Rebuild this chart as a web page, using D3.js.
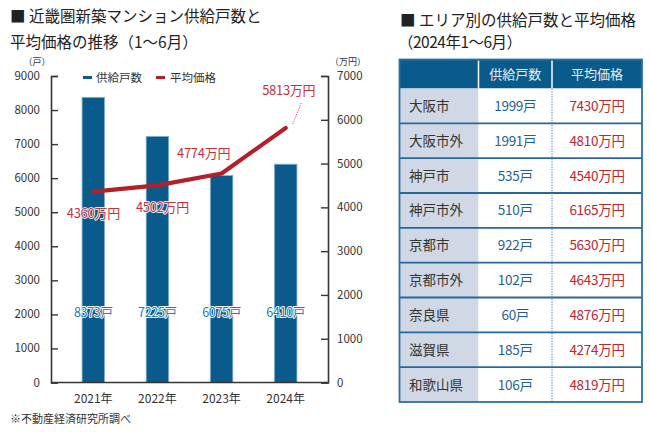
<!DOCTYPE html>
<html><head><meta charset="utf-8">
<script src="https://cdn.jsdelivr.net/npm/d3@7"></script>
<style>
html,body{margin:0;padding:0;background:#fff;}
svg{display:block;font-family:"Noto Sans CJK JP","Noto Sans",sans-serif;}
</style></head>
<body><svg id="c" width="650" height="438"></svg>
<script>
// ---- data ----
const years = ["2021年","2022年","2023年","2024年"];
const supply = [8373, 7225, 6075, 6410];
const price = [4360, 4502, 4774, 5813];
const leftTicks = [0,1000,2000,3000,4000,5000,6000,7000,8000,9000];
const rightTicks = [0,1000,2000,3000,4000,5000,6000,7000];
const areas = ["大阪市","大阪市外","神戸市","神戸市外","京都市","京都市外","奈良県","滋賀県","和歌山県"];
const areaSupply = [1999, 1991, 535, 510, 922, 102, 60, 185, 106];
const areaPrice = [7430, 4810, 4540, 6165, 5630, 4643, 4876, 4274, 4819];

const svg = d3.select("#c");
const BLUE = "#0a5a8c", RED = "#b31f2b", LRED = "#c9323d", AX = "#3a3431", TXT = "#333";

// titles
svg.append("text").attr("x",10).attr("y",22).attr("font-size",15.5).attr("fill","#222")
  .text("■ 近畿圏新築マンション供給戸数と");
svg.append("text").attr("x",10).attr("y",48).attr("font-size",15.5).attr("fill","#222")
  .text("平均価格の推移（1〜6月）");
svg.append("text").attr("x",400).attr("y",25.5).attr("font-size",15.5).attr("fill","#222")
  .text("■ エリア別の供給戸数と平均価格");
svg.append("text").attr("x",398).attr("y",48).attr("font-size",15.5).attr("fill","#222")
  .text("（2024年1〜6月）").attr("letter-spacing",-0.5);

// scales
const x0 = 51, x1 = 328, yB = 382.5, yT = 76;
const x = d3.scalePoint().domain(years).range([x0, x1]).padding(0.66);
const yL = d3.scaleLinear().domain([0, 9000]).range([yB, yT]);
const yR = d3.scaleLinear().domain([0, 7000]).range([yB, yT]);
const bw = 22.5;

// bars
svg.append("g").selectAll("rect").data(supply).join("rect")
  .attr("x",(d,i)=>x(years[i])-bw/2).attr("width",bw)
  .attr("y",d=>yL(d)).attr("height",d=>yB-yL(d))
  .attr("fill",BLUE).attr("stroke","#7fb0d3").attr("stroke-width",0.8);

// axes
const gL = svg.append("g").attr("transform",`translate(${x0},0)`)
  .call(d3.axisRight(yL).tickValues(leftTicks).tickSize(7).tickFormat(""));
const gR = svg.append("g").attr("transform",`translate(${x1},0)`)
  .call(d3.axisLeft(yR).tickValues(rightTicks).tickSize(7).tickFormat(""));
[gL,gR].forEach(g=>{
  g.select(".domain").attr("stroke",AX).attr("stroke-width",1.6);
  g.selectAll(".tick line").attr("stroke",AX).attr("stroke-width",1.4);
});
svg.append("line").attr("x1",x0).attr("x2",x1).attr("y1",yB).attr("y2",yB)
  .attr("stroke",AX).attr("stroke-width",1.6);

svg.append("g").selectAll("text").data(leftTicks).join("text")
  .attr("x",40).attr("y",d=>yL(d)+4).attr("text-anchor","end")
  .attr("font-size",11.5).attr("fill",TXT).text(d=>d);
svg.append("g").selectAll("text").data(rightTicks).join("text")
  .attr("x",337).attr("y",d=>yR(d)+4).attr("text-anchor","start")
  .attr("font-size",11.5).attr("fill",TXT).text(d=>d);
svg.append("text").attr("x",37).attr("y",65).attr("text-anchor","middle")
  .attr("font-size",9).attr("fill",TXT).text("（戸）");
svg.append("text").attr("x",348).attr("y",65).attr("text-anchor","middle")
  .attr("font-size",9).attr("fill",TXT).text("（万円）");

// x labels
svg.append("g").selectAll("text").data(years).join("text")
  .attr("x",d=>x(d)).attr("y",403).attr("text-anchor","middle")
  .attr("font-size",12).attr("fill",TXT).text(d=>d);

// legend
svg.append("rect").attr("x",83).attr("y",76).attr("width",9).attr("height",3).attr("fill",BLUE);
svg.append("text").attr("x",96).attr("y",82).attr("font-size",11.5).attr("fill",TXT).text("供給戸数");
svg.append("rect").attr("x",156).attr("y",76).attr("width",9).attr("height",3).attr("fill",RED);
svg.append("text").attr("x",170).attr("y",82).attr("font-size",11.5).attr("fill",TXT).text("平均価格");

// line
const line = d3.line().x((d,i)=>x(years[i])).y(d=>yR(d));
svg.append("path").datum(price).attr("d",line).attr("fill","none")
  .attr("stroke",RED).attr("stroke-width",4.2).attr("stroke-linecap","round").attr("stroke-linejoin","round");

// bar value labels
svg.append("g").selectAll("text").data(supply).join("text")
  .attr("x",(d,i)=>x(years[i])).attr("y",yL(2000)+2.5).attr("text-anchor","middle")
  .attr("font-size",12.5).attr("fill","#2a76b6").attr("stroke","#ffffff").attr("stroke-width",1.8)
  .attr("stroke-linejoin","round").attr("paint-order","stroke").attr("letter-spacing",-0.3)
  .text(d=>d+"戸");

// price labels (offsets relative to points)
const off = [[0,26],[5,27],[-18,-15],[3,-33]];
svg.append("g").selectAll("text").data(price).join("text")
  .attr("x",(d,i)=>x(years[i])+off[i][0]).attr("y",(d,i)=>yR(d)+off[i][1])
  .attr("text-anchor","middle").attr("font-size",13).attr("fill",LRED)
  .attr("stroke","#fff").attr("stroke-width",1.6).attr("stroke-linejoin","round")
  .attr("paint-order","stroke").attr("letter-spacing",-0.3)
  .text(d=>d+"万円");
// leader for last label
const li = 3;
svg.append("line").attr("x1",x(years[li])+7).attr("y1",yR(price[li])-4)
  .attr("x2",x(years[li])+16).attr("y2",yR(price[li])-26)
  .attr("stroke",LRED).attr("stroke-width",0.8).attr("stroke-dasharray","1.2,1.2");

// footnote
svg.append("text").attr("x",10).attr("y",423).attr("font-size",11).attr("fill",TXT).text("※不動産経済研究所調べ");

// ---- table ----
const tX = [399.5, 478.5, 552, 642];
const rowY = d3.scaleBand().domain(d3.range(areas.length)).range([88.5, 402]);
const tHeadTop = 59.5, tHeadBot = 88.5;
const tg = svg.append("g");
tg.append("rect").attr("x",tX[0]).attr("y",tHeadTop).attr("width",tX[3]-tX[0]).attr("height",tHeadBot-tHeadTop).attr("fill","#0b5a8c");
tg.append("rect").attr("x",tX[0]).attr("y",tHeadBot).attr("width",tX[1]-tX[0]).attr("height",402-tHeadBot).attr("fill","#d1d8e5");
tg.append("rect").attr("x",tX[1]).attr("y",tHeadBot).attr("width",tX[3]-tX[1]).attr("height",402-tHeadBot).attr("fill","#fff");
[tX[1],tX[2]].forEach(xx=>tg.append("line").attr("x1",xx).attr("x2",xx).attr("y1",tHeadTop+1).attr("y2",tHeadBot)
  .attr("stroke","#fff").attr("stroke-width",1.5));
tg.append("line").attr("x1",tX[2]).attr("x2",tX[2]).attr("y1",tHeadBot).attr("y2",402)
  .attr("stroke","#4f86b8").attr("stroke-width",1).attr("stroke-dasharray","1.3,1.3");
tg.selectAll("line.rl").data(d3.range(1,areas.length)).join("line").attr("class","rl")
  .attr("x1",tX[0]).attr("x2",tX[3]).attr("y1",i=>rowY(i)).attr("y2",i=>rowY(i))
  .attr("stroke","#27689a").attr("stroke-width",1.8);
tg.append("rect").attr("x",tX[0]).attr("y",tHeadTop).attr("width",tX[3]-tX[0]).attr("height",402-tHeadTop)
  .attr("fill","none").attr("stroke","#2c6fa0").attr("stroke-width",1.8);
tg.append("text").attr("x",(tX[1]+tX[2])/2).attr("y",79).attr("text-anchor","middle").attr("font-size",13).attr("fill","#e8eef5").text("供給戸数");
tg.append("text").attr("x",(tX[2]+tX[3])/2).attr("y",79).attr("text-anchor","middle").attr("font-size",13).attr("fill","#e8eef5").text("平均価格");
const bh = rowY.bandwidth();
tg.append("g").selectAll("text").data(areas).join("text")
  .attr("x",409).attr("y",(d,i)=>rowY(i)+bh/2+5).attr("font-size",13.5).attr("fill","#333").text(d=>d);
tg.append("g").selectAll("text").data(areaSupply).join("text")
  .attr("x",(tX[1]+tX[2])/2).attr("y",(d,i)=>rowY(i)+bh/2+5).attr("text-anchor","middle")
  .attr("font-size",13.5).attr("fill","#1f5f97").attr("letter-spacing",-0.3).text(d=>d+"戸");
tg.append("g").selectAll("text").data(areaPrice).join("text")
  .attr("x",(tX[2]+tX[3])/2).attr("y",(d,i)=>rowY(i)+bh/2+5).attr("text-anchor","middle")
  .attr("font-size",13.5).attr("fill","#c0262e").attr("letter-spacing",-0.3).text(d=>d+"万円");
</script></body></html>
